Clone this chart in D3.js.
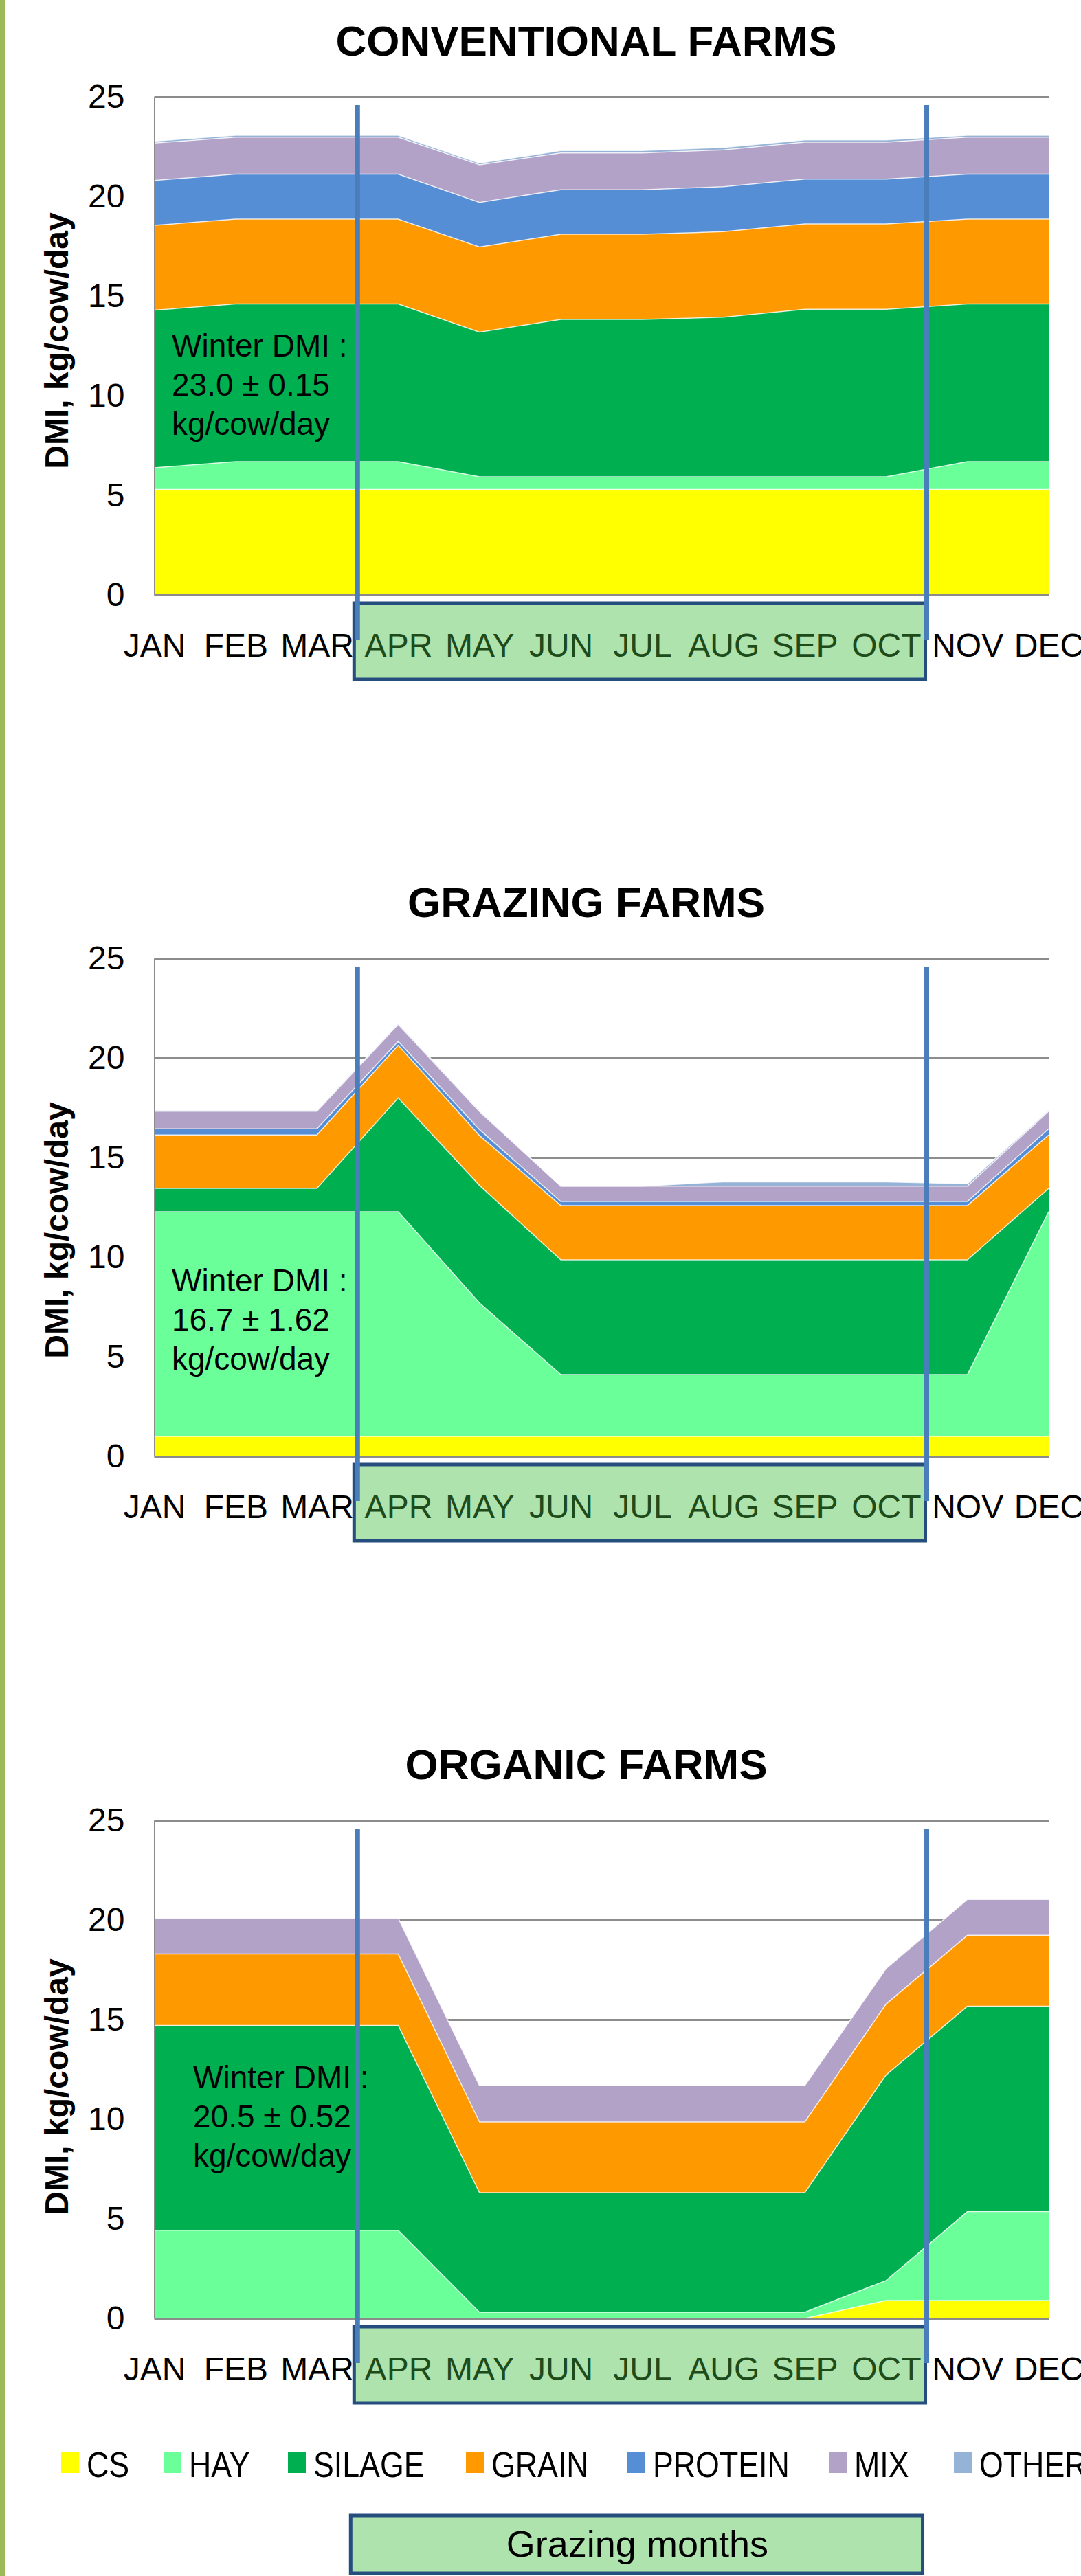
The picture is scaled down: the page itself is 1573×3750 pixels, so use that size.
<!DOCTYPE html>
<html>
<head>
<meta charset="utf-8">
<script src="https://cdn.jsdelivr.net/npm/d3@7"></script>
<style>
  body { margin: 0; background: #fff; }
  text { font-family: "Liberation Sans", Arial, sans-serif; }
</style>
</head>
<body>
<div id="chart"></div>
<script>
// categories and labels
var months = ["JAN", "FEB", "MAR", "APR", "MAY", "JUN", "JUL", "AUG", "SEP", "OCT", "NOV", "DEC"];
var grazingMonths = ["APR", "MAY", "JUN", "JUL", "AUG", "SEP", "OCT"];
var feeds = ["CS", "HAY", "SILAGE", "GRAIN", "PROTEIN", "MIX", "OTHER"];
var feedColors = ["#ffff00", "#6bff99", "#00b050", "#ff9900", "#558ed5", "#b3a2c7", "#95b3d7"];
var yTicks = [0, 5, 10, 15, 20, 25];
var titles = ["CONVENTIONAL FARMS", "GRAZING FARMS", "ORGANIC FARMS"];
var winterDMI = ["23.0 ± 0.15", "16.7 ± 1.62", "20.5 ± 0.52"];

// conventional farms, kg/cow/day
var convCS      = [5.29, 5.29, 5.29, 5.29, 5.29, 5.29, 5.29, 5.29, 5.29, 5.29, 5.29, 5.29];
var convHAY     = [1.09, 1.40, 1.40, 1.40, 0.64, 0.64, 0.64, 0.64, 0.64, 0.64, 1.40, 1.40];
var convSILAGE  = [7.91, 7.91, 7.91, 7.91, 7.26, 7.90, 7.90, 8.01, 8.41, 8.41, 7.91, 7.91];
var convGRAIN   = [4.26, 4.26, 4.26, 4.26, 4.28, 4.27, 4.27, 4.29, 4.28, 4.28, 4.26, 4.26];
var convPROTEIN = [2.25, 2.26, 2.26, 2.26, 2.23, 2.24, 2.24, 2.26, 2.25, 2.25, 2.26, 2.26];
var convMIX     = [1.88, 1.85, 1.85, 1.85, 1.89, 1.84, 1.84, 1.85, 1.85, 1.85, 1.85, 1.85];
var convOTHER   = [0.10, 0.10, 0.10, 0.10, 0.08, 0.12, 0.12, 0.12, 0.12, 0.12, 0.10, 0.10];

// grazing farms
var grazCS      = [1.00, 1.00, 1.00, 1.00, 1.00, 1.00, 1.00, 1.00, 1.00, 1.00, 1.00, 1.00];
var grazHAY     = [11.28, 11.28, 11.28, 11.28, 6.70, 3.10, 3.10, 3.10, 3.10, 3.10, 3.10, 11.28];
var grazSILAGE  = [1.17, 1.17, 1.17, 5.71, 5.90, 5.76, 5.76, 5.76, 5.76, 5.76, 5.76, 1.17];
var grazGRAIN   = [2.68, 2.68, 2.68, 2.64, 2.50, 2.73, 2.73, 2.73, 2.73, 2.73, 2.73, 2.68];
var grazPROTEIN = [0.31, 0.31, 0.31, 0.20, 0.30, 0.20, 0.20, 0.20, 0.20, 0.20, 0.20, 0.31];
var grazMIX     = [0.88, 0.88, 0.88, 0.85, 0.90, 0.77, 0.77, 0.77, 0.77, 0.77, 0.77, 0.88];
var grazOTHER   = [0.05, 0.05, 0.05, 0.05, 0.05, 0.00, 0.00, 0.22, 0.22, 0.22, 0.12, 0.05];

// organic farms
var orgCS      = [0, 0, 0, 0, 0, 0, 0, 0, 0, 0.90, 0.90, 0.90];
var orgHAY     = [4.42, 4.42, 4.42, 4.42, 0.31, 0.31, 0.31, 0.31, 0.31, 1.00, 4.46, 4.46];
var orgSILAGE  = [10.29, 10.29, 10.29, 10.29, 6.00, 6.00, 6.00, 6.00, 6.00, 10.32, 10.31, 10.31];
var orgGRAIN   = [3.58, 3.58, 3.58, 3.58, 3.55, 3.55, 3.55, 3.55, 3.55, 3.56, 3.56, 3.56];
var orgPROTEIN = [0, 0, 0, 0, 0, 0, 0, 0, 0, 0, 0, 0];
var orgMIX     = [1.80, 1.80, 1.80, 1.80, 1.82, 1.82, 1.82, 1.82, 1.82, 1.78, 1.80, 1.80];
var orgOTHER   = [0, 0, 0, 0, 0, 0, 0, 0, 0, 0, 0, 0];

var farms = [
  [convCS, convHAY, convSILAGE, convGRAIN, convPROTEIN, convMIX, convOTHER],
  [grazCS, grazHAY, grazSILAGE, grazGRAIN, grazPROTEIN, grazMIX, grazOTHER],
  [orgCS, orgHAY, orgSILAGE, orgGRAIN, orgPROTEIN, orgMIX, orgOTHER]
];

// page layout
var W = 1573, H = 3750;
var plotLeft = 224.5, plotRight = 1526, plotH = 725;
var panels = [
  {top: 141,  noteX: 250, noteY: 519,  labelY: 496},
  {top: 1395, noteX: 250, noteY: 1880, labelY: 1791},
  {top: 2650, noteX: 281, noteY: 3040, labelY: 3038}
];
var legendX = [89, 238, 419, 678, 913, 1206, 1388];

var svg = d3.select("#chart")
  .append("svg")
    .attr("width", W)
    .attr("height", H);

// green strip on the left edge
svg.append("rect")
  .attr("x", 0).attr("y", 0)
  .attr("width", 8).attr("height", H)
  .attr("fill", "#9bbb59");

var x = d3.scalePoint()
  .domain(months)
  .range([plotLeft, plotRight]);

var lineLeft = (x("MAR") + x("APR")) / 2,
    lineRight = (x("OCT") + x("NOV")) / 2;

panels.forEach(function(p, i) {
  var y0 = p.top + plotH;
  var y = d3.scaleLinear()
    .domain([0, 25])
    .range([y0, p.top]);

  var g = svg.append("g");

  var rows = months.map(function(m, j) {
    var r = {month: m};
    feeds.forEach(function(f, k) { r[f] = farms[i][k][j]; });
    return r;
  });
  var layers = d3.stack().keys(feeds)(rows)
    .filter(function(s) { return d3.max(s, function(d) { return d[1] - d[0]; }) > 0; });

  // gridlines
  g.append("g")
    .attr("transform", "translate(" + plotLeft + ",0)")
    .call(d3.axisLeft(y).tickValues(yTicks).tickSize(-(plotRight - plotLeft)).tickFormat(""))
    .call(function(a) {
      a.select(".domain").remove();
      a.selectAll("line").attr("stroke", "#8c8c8c").attr("stroke-width", 3);
    });

  var area = d3.area()
    .x(function(d) { return x(d.data.month); })
    .y0(function(d) { return y(d[0]); })
    .y1(function(d) { return y(d[1]); });

  var topLine = d3.line()
    .x(function(d) { return x(d.data.month); })
    .y(function(d) { return y(d[1]); });

  g.selectAll(".layer")
    .data(layers)
    .enter()
    .append("path")
      .attr("d", area)
      .attr("fill", function(s) { return feedColors[feeds.indexOf(s.key)]; });

  g.selectAll(".edge")
    .data(layers)
    .enter()
    .append("path")
      .attr("d", topLine)
      .attr("fill", "none")
      .attr("stroke", "#ffffff")
      .attr("stroke-opacity", 0.8)
      .attr("stroke-width", 1.5);

  // grazing months box under the axis
  g.append("rect")
    .attr("x", lineLeft - 5)
    .attr("y", y0 + 12)
    .attr("width", lineRight - lineLeft + 3)
    .attr("height", 111)
    .attr("fill", "#afe3ae")
    .attr("stroke", "#254e7f")
    .attr("stroke-width", 5);

  // y axis
  g.append("g")
    .attr("transform", "translate(" + plotLeft + ",0)")
    .call(d3.axisLeft(y).tickValues(yTicks).tickSize(0).tickPadding(43))
    .call(function(a) {
      a.select(".domain").attr("stroke", "#8c8c8c").attr("stroke-width", 2);
      a.selectAll("text").attr("font-size", 48).attr("fill", "#000")
        .attr("font-family", "Liberation Sans, Arial, sans-serif");
    });

  // x axis
  g.append("g")
    .attr("transform", "translate(0," + y0 + ")")
    .call(d3.axisBottom(x).tickSize(0).tickSizeOuter(0))
    .call(function(a) {
      a.select(".domain").attr("stroke", "#8c8c8c").attr("stroke-width", 3);
      a.selectAll("text")
        .attr("y", 90).attr("dy", null)
        .attr("font-size", 48)
        .attr("font-family", "Liberation Sans, Arial, sans-serif")
        .attr("fill", function(m) { return grazingMonths.indexOf(m) >= 0 ? "#1e4b1a" : "#000"; });
    });

  // title
  g.append("text")
    .attr("x", 853)
    .attr("y", p.top - 60)
    .attr("text-anchor", "middle")
    .attr("font-size", 62)
    .attr("font-weight", "bold")
    .text(titles[i]);

  // y axis title
  g.append("text")
    .attr("transform", "translate(99," + p.labelY + ") rotate(-90)")
    .attr("text-anchor", "middle")
    .attr("font-size", 48)
    .attr("font-weight", "bold")
    .text("DMI, kg/cow/day");

  // winter DMI note
  ["Winter DMI :", winterDMI[i], "kg/cow/day"].forEach(function(t, k) {
    g.append("text")
      .attr("x", p.noteX)
      .attr("y", p.noteY + k * 57)
      .attr("font-size", 46)
      .text(t);
  });

  // vertical lines marking the grazing season
  [lineLeft, lineRight].forEach(function(lx) {
    g.append("line")
      .attr("x1", lx).attr("x2", lx)
      .attr("y1", p.top + 12).attr("y2", y0 + 65)
      .attr("stroke", "#4a7ebb")
      .attr("stroke-width", 7);
  });
});

// legend
var legend = svg.append("g");
feeds.forEach(function(f, k) {
  legend.append("rect")
    .attr("x", legendX[k]).attr("y", 3570)
    .attr("width", 26).attr("height", 30)
    .attr("fill", feedColors[k]);
  var t = legend.append("text")
    .attr("x", legendX[k] + 37)
    .attr("y", 3606)
    .attr("font-size", 52)
    .text(f);
  var w = t.node().getComputedTextLength();
  t.attr("textLength", w * 0.86).attr("lengthAdjust", "spacingAndGlyphs");
});

// grazing months key box
svg.append("rect")
  .attr("x", lineLeft - 10)
  .attr("y", 3662)
  .attr("width", lineRight - lineLeft + 4)
  .attr("height", 84)
  .attr("fill", "#afe3ae")
  .attr("stroke", "#254e7f")
  .attr("stroke-width", 5);

svg.append("text")
  .attr("x", (lineLeft + lineRight) / 2 - 7)
  .attr("y", 3722)
  .attr("text-anchor", "middle")
  .attr("font-size", 54)
  .text("Grazing months");
</script>
</body>
</html>
